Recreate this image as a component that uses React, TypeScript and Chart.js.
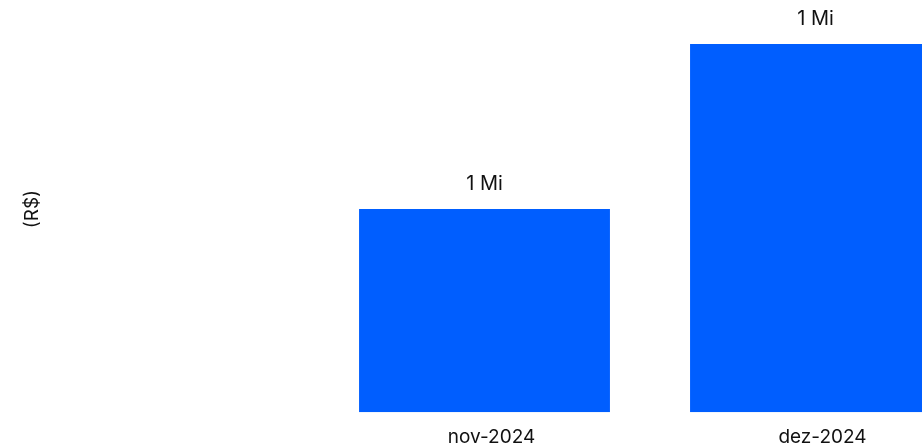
import React, { useEffect, useRef } from "react";
import { Chart, registerables } from "chart.js";

Chart.register(...registerables);

const categories = ["nov-2024", "dez-2024"];
const values = [800000, 1450000];
const yTitle = "(R$)";

const FONT = "Inter, 'Noto Sans', sans-serif";
const TEXT = "#111111";
const BLUE = "#005EFF";

function fmt(v: number) {
  return Math.round(v / 1e6) + " Mi";
}

const labelPlugin = {
  id: "barLabels",
  afterDatasetsDraw(chart: any) {
    const ctx = chart.ctx;
    const meta = chart.getDatasetMeta(0);
    ctx.save();
    ctx.font = `20px ${FONT}`;
    ctx.fillStyle = TEXT;
    ctx.textAlign = "center";
    ctx.textBaseline = "middle";
    meta.data.forEach((bar: any, i: number) => {
      ctx.fillText(fmt(values[i]), bar.x, bar.y - 25);
    });
    ctx.restore();
  },
};

export default function App() {
  const ref = useRef<HTMLCanvasElement>(null);
  useEffect(() => {
    if (!ref.current) return;
    const chart = new Chart(ref.current, {
      type: "bar",
      data: {
        labels: categories,
        datasets: [
          {
            data: values,
            backgroundColor: BLUE,
            borderWidth: 0,
            categoryPercentage: 1,
            barPercentage: 0.758,
          },
        ],
      },
      options: {
        responsive: false,
        animation: false,
        layout: { padding: { left: 17, right: 19, top: 6, bottom: 0 } },
        plugins: {
          legend: { display: false },
          tooltip: { enabled: false },
        },
        scales: {
          x: {
            grid: { display: false, drawTicks: false },
            border: { display: false },
            ticks: {
              color: TEXT,
              font: { family: FONT, size: 19 },
              padding: 14,
              labelOffset: 7,
            },
          },
          y: {
            min: 0,
            max: 1600000,
            grid: { display: false, drawTicks: false },
            border: { display: false },
            ticks: { display: false },
            title: {
              display: true,
              text: yTitle,
              color: TEXT,
              font: { family: FONT, size: 19 },
              padding: 4,
            },
            afterFit(axis: any) {
              axis.width = 302;
            },
          },
        },
      },
      plugins: [labelPlugin],
    });
    return () => chart.destroy();
  }, []);
  return (
    <div
      style={{
        position: "fixed",
        left: 0,
        top: 0,
        width: 922,
        height: 445,
        overflow: "hidden",
        background: "#fff",
      }}
    >
      <canvas ref={ref} width={1000} height={463} style={{ display: "block" }} />
    </div>
  );
}
